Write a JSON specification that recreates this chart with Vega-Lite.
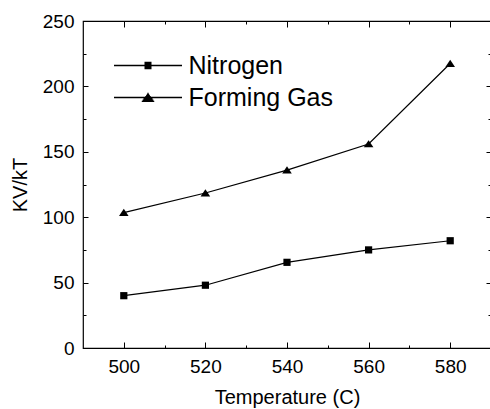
{
  "$schema": "https://vega.github.io/schema/vega-lite/v6.json",
  "width": 408,
  "height": 327,
  "autosize": {"type": "none"},
  "padding": {"left": 83, "top": 21, "right": 0, "bottom": 61},
  "background": "white",
  "config": {
    "font": "Liberation Sans",
    "view": {"stroke": "black", "strokeWidth": 1.2},
    "axis": {"domain": false, "grid": false, "tickColor": "black", "tickWidth": 1, "labelColor": "black", "titleColor": "black", "labelFont": "Liberation Sans", "titleFont": "Liberation Sans", "titleFontWeight": "normal"}
  },
  "data": {
    "values": [
      {"T": 500, "v": 40, "series": "Nitrogen"},
      {"T": 520, "v": 48, "series": "Nitrogen"},
      {"T": 540, "v": 65.5, "series": "Nitrogen"},
      {"T": 560, "v": 75, "series": "Nitrogen"},
      {"T": 580, "v": 82, "series": "Nitrogen"},
      {"T": 500, "v": 103.5, "series": "Forming Gas"},
      {"T": 520, "v": 118.5, "series": "Forming Gas"},
      {"T": 540, "v": 136, "series": "Forming Gas"},
      {"T": 560, "v": 156, "series": "Forming Gas"},
      {"T": 580, "v": 217.5, "series": "Forming Gas"}
    ]
  },
  "resolve": {"axis": {"x": "independent", "y": "independent"}, "scale": {"shape": "independent"}},
  "layer": [
    {
      "mark": {"type": "line", "color": "black", "strokeWidth": 1.2},
      "encoding": {
        "x": {
          "field": "T", "type": "quantitative",
          "scale": {"domain": [490, 590], "nice": false, "zero": false},
          "axis": {
            "orient": "bottom",
            "values": [500, 520, 540, 560, 580],
            "offset": -6,
            "tickSize": 6,
            "labelFontSize": 19,
            "labelPadding": 9,
            "title": "Temperature (C)",
            "titleFontSize": 20,
            "titlePadding": 11
          }
        },
        "y": {
          "field": "v", "type": "quantitative",
          "scale": {"domain": [0, 250], "nice": false},
          "axis": {
            "orient": "left",
            "values": [0, 50, 100, 150, 200, 250],
            "offset": -5,
            "tickSize": 5,
            "labelFontSize": 19,
            "labelPadding": 9,
            "title": "KV/kT",
            "titleFontSize": 20,
            "titlePadding": 12
          }
        },
        "detail": {"field": "series"}
      }
    },
    {
      "mark": {"type": "point", "filled": true, "color": "black", "opacity": 1, "strokeWidth": 0},
      "encoding": {
        "x": {
          "field": "T", "type": "quantitative",
          "axis": {"orient": "top", "values": [500, 520, 540, 560, 580], "offset": -6, "tickSize": 6, "labels": false, "title": null}
        },
        "y": {
          "field": "v", "type": "quantitative",
          "axis": {"orient": "right", "values": [0, 50, 100, 150, 200, 250], "offset": -5, "tickSize": 5, "labels": false, "title": null}
        },
        "shape": {
          "field": "series", "type": "nominal",
          "scale": {"domain": ["Nitrogen", "Forming Gas"], "range": ["M-0.9,-0.9H0.9V0.9H-0.9Z", "M-1.2,0.85L0,-0.95L1.2,0.85Z"]},
          "legend": null
        },
        "size": {"value": 64}
      }
    },
    {
      "mark": {"type": "point", "opacity": 0},
      "encoding": {
        "x": {
          "field": "T", "type": "quantitative",
          "axis": {"orient": "bottom", "values": [510, 530, 550, 570, 590], "offset": -3, "tickSize": 3, "labels": false, "title": null}
        },
        "y": {
          "field": "v", "type": "quantitative",
          "axis": {"orient": "left", "values": [25, 75, 125, 175, 225], "offset": -3, "tickSize": 3, "labels": false, "title": null}
        }
      }
    },
    {
      "mark": {"type": "point", "filled": false, "color": "black", "strokeWidth": 1.4, "opacity": 0},
      "encoding": {
        "x": {
          "field": "T", "type": "quantitative",
          "axis": {"orient": "top", "values": [510, 530, 550, 570, 590], "offset": -3, "tickSize": 3, "labels": false, "title": null}
        },
        "y": {
          "field": "v", "type": "quantitative",
          "axis": {"orient": "right", "values": [25, 75, 125, 175, 225], "offset": -3, "tickSize": 3, "labels": false, "title": null}
        },
        "shape": {
          "field": "series", "type": "nominal",
          "scale": {
            "domain": ["Nitrogen", "Forming Gas"],
            "range": [
              "M-6.8,0H6.8M-0.7,-0.6H0.7M-0.7,-0.36H0.7M-0.7,-0.12H0.7M-0.7,0.12H0.7M-0.7,0.36H0.7M-0.7,0.6H0.7",
              "M-6.8,0H6.8M-1.249,0.78H1.249M-1.076,0.54H1.076M-0.903,0.3H0.903M-0.729,0.06H0.729M-0.556,-0.18H0.556M-0.383,-0.42H0.383M-0.209,-0.66H0.209M-0.065,-0.86H0.065"
            ]
          },
          "legend": {
            "orient": "none",
            "legendX": 52.5,
            "legendY": 32,
            "title": null,
            "padding": 0,
            "labelFont": "Liberation Sans",
            "labelFontSize": 25,
            "labelColor": "black",
            "labelOffset": 28,
            "rowPadding": 6,
            "symbolSize": 100,
            "symbolOpacity": 1,
            "symbolStrokeColor": "black",
            "symbolStrokeWidth": 1.4
          }
        },
        "size": {"value": 100}
      }
    }
  ]
}
